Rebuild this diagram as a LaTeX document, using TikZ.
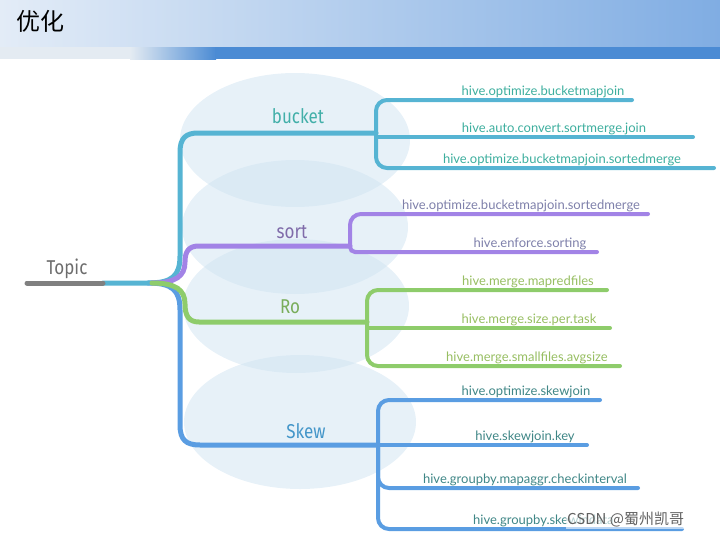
\documentclass[tikz,border=0pt]{standalone}
\usepackage{fontspec}
\setmainfont{Lato}
\newfontfamily\cjkfont{Noto Sans CJK SC}
\newfontfamily\branchfont[FakeStretch=0.85]{Fira Sans}
\newfontfamily\leaffont{Lato}
\usepackage{xcolor}
\usetikzlibrary{positioning}

\definecolor{headL}{HTML}{E3ECF7}
\definecolor{headR}{HTML}{80ADE3}
\definecolor{bandL}{HTML}{E4EBF2}
\definecolor{bandR}{HTML}{4B8BD4}
\definecolor{cloudcol}{HTML}{CFE3F1}
\definecolor{topiccol}{HTML}{808080}
\definecolor{bucketcol}{HTML}{56B4D3}
\definecolor{sortcol}{HTML}{A283E6}
\definecolor{rocol}{HTML}{8ECC6B}
\definecolor{skewcol}{HTML}{5A9DE2}
\definecolor{buckettxt}{HTML}{3DAE9E}
\definecolor{sorttxt}{HTML}{7E80AA}
\definecolor{rotxt}{HTML}{97BE62}
\definecolor{skewtxt}{HTML}{3F8686}

\tikzset{
  cloud/.style   = {fill=cloudcol, opacity=0.5},
  trunk/.style   = {line width=5pt, line cap=round},
  leaf/.style    = {line width=4pt, line cap=round, rounded corners=11pt},
  topic/.style   = {anchor=base, inner sep=0pt,
                    font=\branchfont\fontsize{20}{20}\selectfont},
  key/.style     = {anchor=base, inner sep=0pt,
                    font=\leaffont\fontsize{13}{13}\selectfont},
}

\begin{document}
\begin{tikzpicture}[x=1pt, y=-1pt]
\useasboundingbox (0,0) rectangle (720,538);

% ── Header ───────────────────────────────────────────────
\shade[left color=headL, right color=headR] (0,0) rectangle (720,47);
\fill[bandL] (0,47) rectangle (131,59);
\shade[left color=bandL, right color=bandR] (130,47) rectangle (216,59);
\fill[bandR] (215,47) rectangle (720,59);
\node[anchor=west, inner sep=0pt, font=\cjkfont\fontsize{24}{24}\selectfont]
      (title) at (16,21) {优化};

% ── Background clouds ────────────────────────────────────
\fill[cloud] (295,140) ellipse [x radius=115, y radius=67];
\fill[cloud] (295,227) ellipse [x radius=113, y radius=67];
\fill[cloud] (296,306) ellipse [x radius=113, y radius=67];
\fill[cloud] (300,422) ellipse [x radius=116, y radius=67];

% ── Branch points ────────────────────────────────────────
\coordinate (tstart) at (27,283);
\coordinate (root)   at (103,283);
\coordinate (split)  at (148,283);
\coordinate (bk) at (376,133);
\coordinate (st) at (350,246);
\coordinate (ro) at (367,322);
\coordinate (sk) at (378,445);

% ── Leaf ends ────────────────────────────────────────────
\coordinate (b1e) at (632,100);
\coordinate (b2e) at (693,137);
\coordinate (b3e) at (714,168);
\coordinate (s1e) at (648,214);
\coordinate (s2e) at (597,252);
\coordinate (r1e) at (607,290);
\coordinate (r2e) at (610,328);
\coordinate (r3e) at (620,366);
\coordinate (k1e) at (600,400);
\coordinate (k2e) at (587,445);
\coordinate (k3e) at (638,488);
\coordinate (k4e) at (682,529);

% ── Main branches ────────────────────────────────────────
\draw[trunk, skewcol] (split) .. controls (172,283) and (180,290) .. (180,310)
      -- (180,425) .. controls (180,440) and (186,445) .. (200,445) -- (sk);
\draw[trunk, bucketcol] (root) -- (split) .. controls (172,283) and (180,276) .. (180,256)
      -- (180,152) .. controls (180,138) and (186,133) .. (198,133) -- (bk);
\draw[trunk, sortcol] (152,283) .. controls (176,283) and (185,276) .. (185,262)
      .. controls (185,251) and (189,246) .. (199,246) -- (st);
\draw[trunk, rocol] (152,283) .. controls (176,283) and (185,290) .. (185,304)
      .. controls (185,316) and (189,322) .. (199,322) -- (ro);
\draw[trunk, topiccol] (tstart) -- (root);

% ── Leaves: bucket ───────────────────────────────────────
\draw[leaf, bucketcol] (bk) |- (b1e);
\draw[leaf, bucketcol, sharp corners] (bk) |- (b2e);
\draw[leaf, bucketcol] (bk) |- (b3e);

% ── Leaves: sort ─────────────────────────────────────────
\draw[leaf, sortcol] (st) |- (s1e);
\draw[leaf, sortcol, rounded corners=5pt] (st) |- (s2e);

% ── Leaves: Ro ───────────────────────────────────────────
\draw[leaf, rocol] (ro) |- (r1e);
\draw[leaf, rocol, sharp corners] (ro) |- (r2e);
\draw[leaf, rocol] (ro) |- (r3e);

% ── Leaves: Skew ─────────────────────────────────────────
\draw[leaf, skewcol] (sk) |- (k1e);
\draw[leaf, skewcol] (sk) -- (k2e);
\draw[leaf, skewcol] (sk) |- (k3e);
\draw[leaf, skewcol] (sk) |- (k4e);

% ── Branch labels ────────────────────────────────────────
\node[topic, text=topiccol!85!black] (topic)  at (67,274)  {Topic};
\node[topic, text=buckettxt!80!bucketcol] (bucket) at (298,123) {bucket};
\node[topic, text=sortcol!70!black!90] (sort)   at (292,238) {sort};
\node[topic, text=rocol!85!black]  (ro-lbl) at (290,313) {Ro};
\node[topic, text=skewcol!75!teal] (skew)   at (306,438) {Skew};

% ── Leaf labels ──────────────────────────────────────────
\node[key, text=buckettxt] (b1) at (543,95)  {hive.optimize.bucketmapjoin};
\node[key, text=buckettxt] (b2) at (554,132) {hive.auto.convert.sortmerge.join};
\node[key, text=buckettxt] (b3) at (562,163) {hive.optimize.bucketmapjoin.sortedmerge};
\node[key, text=sorttxt]   (s1) at (521,209) {hive.optimize.bucketmapjoin.sortedmerge};
\node[key, text=sorttxt]   (s2) at (530,247) {hive.enforce.sorting};
\node[key, text=rotxt]     (r1) at (528,285) {hive.merge.mapredfiles};
\node[key, text=rotxt]     (r2) at (529,323) {hive.merge.size.per.task};
\node[key, text=rotxt]     (r3) at (527,361) {hive.merge.smallfiles.avgsize};
\node[key, text=skewtxt]   (k1) at (526,395) {hive.optimize.skewjoin};
\node[key, text=skewtxt]   (k2) at (525,440) {hive.skewjoin.key};
\node[key, text=skewtxt]   (k3) at (525,483) {hive.groupby.mapaggr.checkinterval};
\node[key, text=skewtxt, anchor=base west] (k4) at (473,524) {hive.groupby.skewindata};

% ── Watermark ────────────────────────────────────────────
\node[anchor=west, inner sep=1pt, fill=white, fill opacity=0.6, text opacity=1,
      text=black!62, font=\cjkfont\fontsize{15}{15}\selectfont]
      (mark) at (566,520) {CSDN @蜀州凯哥};

\end{tikzpicture}
\end{document}
